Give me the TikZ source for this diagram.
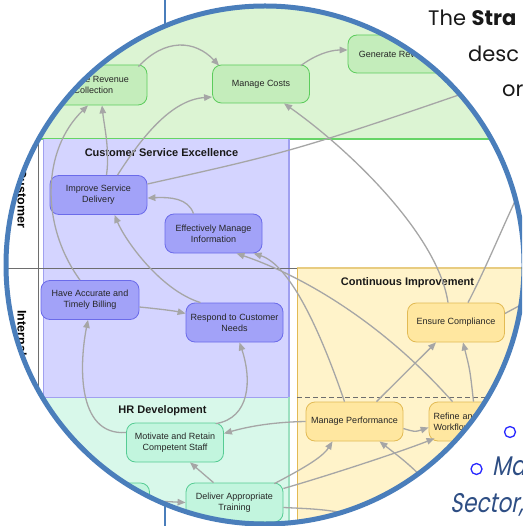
\documentclass[tikz,border=0pt]{standalone}
\usepackage{fontspec}
\setmainfont{Liberation Sans}
\newfontfamily\geofont{Poppins}
\newfontfamily\geoslant[FakeSlant=0.2,FakeStretch=0.8]{Poppins}
\usetikzlibrary{arrows.meta,calc}

\definecolor{lensblue}{RGB}{74,126,187}
\definecolor{finfill}{RGB}{220,244,211}
\definecolor{finline}{RGB}{102,212,102}
\definecolor{finnode}{RGB}{196,237,187}
\definecolor{finnodeline}{RGB}{92,204,92}
\definecolor{csefill}{RGB}{212,212,255}
\definecolor{cseline}{RGB}{160,160,240}
\definecolor{csenode}{RGB}{162,162,248}
\definecolor{csenodeline}{RGB}{107,107,234}
\definecolor{cifill}{RGB}{255,243,202}
\definecolor{ciline}{RGB}{232,204,128}
\definecolor{cinode}{RGB}{255,231,160}
\definecolor{cinodeline}{RGB}{226,186,84}
\definecolor{hrfill}{RGB}{216,248,234}
\definecolor{hrline}{RGB}{156,224,192}
\definecolor{hrnode}{RGB}{194,245,222}
\definecolor{hrnodeline}{RGB}{86,204,148}
\definecolor{linkgray}{RGB}{166,166,166}
\definecolor{rulegray}{RGB}{110,110,110}
\definecolor{bodyblue}{RGB}{46,78,132}
\definecolor{bulletblue}{RGB}{40,40,255}

\tikzset{
  objective/.style={rounded corners=9pt, minimum width=97pt, minimum height=39pt,
    align=center, font=\fontsize{9}{10.8}\selectfont, line width=0.8pt, inner sep=2pt,
    text=black!85},
  finobj/.style={objective, fill=finnode, draw=finnodeline},
  cseobj/.style={objective, fill=csenode, draw=csenodeline},
  ciobj/.style={objective, fill=cinode, draw=cinodeline},
  hrobj/.style={objective, fill=hrnode, draw=hrnodeline},
  link/.style={draw=linkgray, line width=1.3pt, -{Triangle[length=8pt,width=6.5pt]}},
  openlink/.style={draw=linkgray, line width=1.3pt},
  themetitle/.style={font=\fontsize{11}{13}\selectfont\bfseries, text=black!90},
  persptitle/.style={font=\fontsize{12.5}{14}\selectfont\bfseries, rotate=-90},
  slidetext/.style={anchor=base west, inner sep=0pt, font=\geofont\fontsize{21}{25}\selectfont, text=black!90},
  slidebody/.style={anchor=base west, inner sep=0pt, font=\geoslant\fontsize{27}{32}\selectfont, text=bodyblue},
  bulletring/.style={circle, draw=bulletblue, line width=1.3pt, minimum size=11pt, inner sep=0pt},
}

\begin{document}
\begin{tikzpicture}[x=1pt,y=-1pt]
\useasboundingbox (0,0) rectangle (522,526);
\begin{scope}
\clip (0,0) rectangle (522,526);
\fill[white] (0,0) rectangle (522,526);

% slide underneath the lens
\draw[lensblue, line width=2.5pt] (165,-5) -- (165,540);
\node[slidetext] (t1) at (428,26) {The \textbf{Stra}};
\node[slidetext] (t2) at (468,62) {desc};
\node[slidetext] (t3) at (502,97) {or};
\node[bulletring] (b1) at (510,432) {};
\node[bulletring] (b2) at (476.5,469) {};
\node[slidebody] (t4) at (492,475) {Ma};
\node[slidebody] (t5) at (450,512) {Sector,};

% magnified strategy map
\begin{scope}
\clip (265,265) circle (259);
\fill[white] (0,0) rectangle (540,540);

% theme areas
\fill[finfill] (0,-10) rectangle (560,139);
\draw[finline, line width=1.2pt] (0,139) -- (560,139);
\fill[csefill] (43,139) rectangle (289,397);
\draw[cseline, line width=1pt] (43,139) -- (43,397);
\draw[cseline, line width=1.6pt] (289,139) -- (289,397);
\fill[hrfill] (43,397) rectangle (289,560);
\draw[cseline, line width=1pt] (43,397) -- (289,397);
\draw[hrline, line width=1.2pt] (289,397) -- (289,560);
\fill[cifill] (297,268) rectangle (560,560);
\draw[ciline, line width=1.6pt] (297,268) -- (560,268);
\draw[cinodeline, line width=0.8pt] (297,268) -- (297,560);
\draw[rulegray, dashed, dash pattern=on 5pt off 3pt, line width=0.7pt] (297,397) -- (560,397);

% perspective rows
\draw[rulegray, line width=1pt] (0,268) -- (297,268);
\draw[rulegray, line width=1pt] (38,139) -- (38,560);
\node[persptitle] (pc) at (22,199) {Customer};
\node[persptitle] (pi) at (22,333) {Internal};

% theme titles
\node[themetitle] (tcse) at (161.5,153) {Customer Service Excellence};
\node[themetitle] (tci) at (407.5,283) {Continuous Improvement};
\node[themetitle] (thr) at (162.5,411) {HR Development};

% objectives
\node[finobj, minimum width=107pt, minimum height=40pt] (irc) at (93.5,85) {Improve Revenue\\Collection};
\node[finobj, minimum height=38pt] (mc) at (261,84) {Manage Costs};
\node[finobj, minimum width=98pt, minimum height=38pt] (gen) at (397,54) {Generate Revenue};
\node[cseobj] (isd) at (98.5,195) {Improve Service\\Delivery};
\node[cseobj] (emi) at (213.5,233.5) {Effectively Manage\\Information};
\node[cseobj, minimum width=98pt] (hab) at (90,300) {Have Accurate and\\Timely Billing};
\node[cseobj] (rcn) at (234.5,322.5) {Respond to Customer\\Needs};
\node[ciobj] (ec) at (456,322.5) {Ensure Compliance};
\node[hrobj] (mrs) at (175,442.5) {Motivate and Retain\\Competent Staff};
\node[hrobj] (dat) at (234.5,502.5) {Deliver Appropriate\\Training};
\node[hrobj] (lft) at (101,502.5) {};
\node[ciobj] (mp) at (354.5,421.5) {Manage Performance};
\node[ciobj, align=left, text width=88pt] (ref) at (477.5,421.5) {Refine and\\Workflows};

% loose ends leaving the lens
\coordinate (offA) at (560,60);
\coordinate (offB) at (440,540);
\coordinate (offC) at (450,505);
\coordinate (offD) at (530,170);
\coordinate (offE) at (545,292);

% cause and effect links
\draw[link] ($(irc.north east)+(-9,2)$) .. controls (165,38) and (195,40) .. ($(mc.north west)+(7,1)$);
\draw[link] ($(isd.north)+(8,0)$) .. controls (110,150) and (104,125) .. ($(irc.south)+(8.5,0)$);
\draw[link] ($(isd.north)+(19,0)$) .. controls (140,140) and (170,100) .. ($(mc.west)+(0,13)$);
\draw[link] ($(hab.north)+(-10,0)$) .. controls (40,225) and (42,150) .. ($(irc.south)+(-5.5,0)$);
\draw[link] ($(ec.north)+(-8,0)$) .. controls (438,235) and (350,150) .. ($(mc.south)+(23,0)$);
\draw[openlink] ($(isd.east)+(0,-11)$) .. controls (300,150) .. (offA);
\draw[link] ($(mc.north east)+(-9,1)$) .. controls (315,55) and (330,50) .. ($(gen.west)+(0,-4)$);
\draw[link] ($(emi.north)+(-20,0)$) .. controls (188,198) and (170,197) .. ($(isd.east)+(0,3)$);
\draw[link] ($(rcn.north)+(-34,0)$) .. controls (160,290) and (125,240) .. ($(isd.south)+(16,0)$);
\draw[link] ($(hab.east)+(0,7)$) .. controls (160,309) and (175,311) .. ($(rcn.west)+(0,-9)$);
\draw[link] ($(mrs.west)+(0,-10)$) .. controls (75,436) and (80,360) .. ($(hab.south)+(-2,0)$);
\draw[link] ($(mrs.north east)+(-8,1)$) .. controls (250,418) and (252,380) .. ($(rcn.south)+(5,0)$);
\draw[link] (mp.west) .. controls (275,422) and (250,426) .. ($(mrs.east)+(0,-9)$);
\draw[link] ($(dat.north)+(-21,0)$) -- ($(mrs.south)+(15,0)$);
\draw[link] ($(lft.east)+(-6,-2)$) -- (dat.west);
\draw[link] ($(dat.north east)+(-9,1)$) .. controls (300,470) and (322,458) .. ($(mp.south)+(-22,0)$);
\draw[link] ($(dat.east)+(0,-14)$) .. controls (330,475) and (400,452) .. ($(ref.south west)+(6,-3)$);
\draw[openlink] ($(dat.east)+(0,5)$) .. controls (340,510) .. (offB);
\draw[link] (offC) .. controls (410,465) .. ($(mp.south)+(25,0)$);
\draw[link] ($(mp.east)+(0,7)$) .. controls (415,432) .. ($(ref.west)+(0,6)$);
\draw[link] ($(mp.north)+(22,0)$) -- ($(ec.south)+(-20,0)$);
\draw[link] ($(ref.north)+(-4,0)$) .. controls (470,370) .. ($(ec.south)+(7,0)$);
\draw[openlink] ($(ec.north)+(12,0)$) .. controls (490,260) and (505,220) .. (offD);
\draw[openlink] ($(ec.east)+(0,-9)$) -- (offE);
\draw[link] ($(mp.north)+(-10,0)$) .. controls (320,330) and (290,265) .. ($(emi.south)+(40,0)$);
\draw[link] ($(ref.north)+(-25,0)$) .. controls (380,320) and (300,275) .. ($(emi.south)+(23,0)$);
\end{scope}

% lens rim
\draw[lensblue, line width=5pt] (265,265) circle (259);
\end{scope}
\end{tikzpicture}
\end{document}
